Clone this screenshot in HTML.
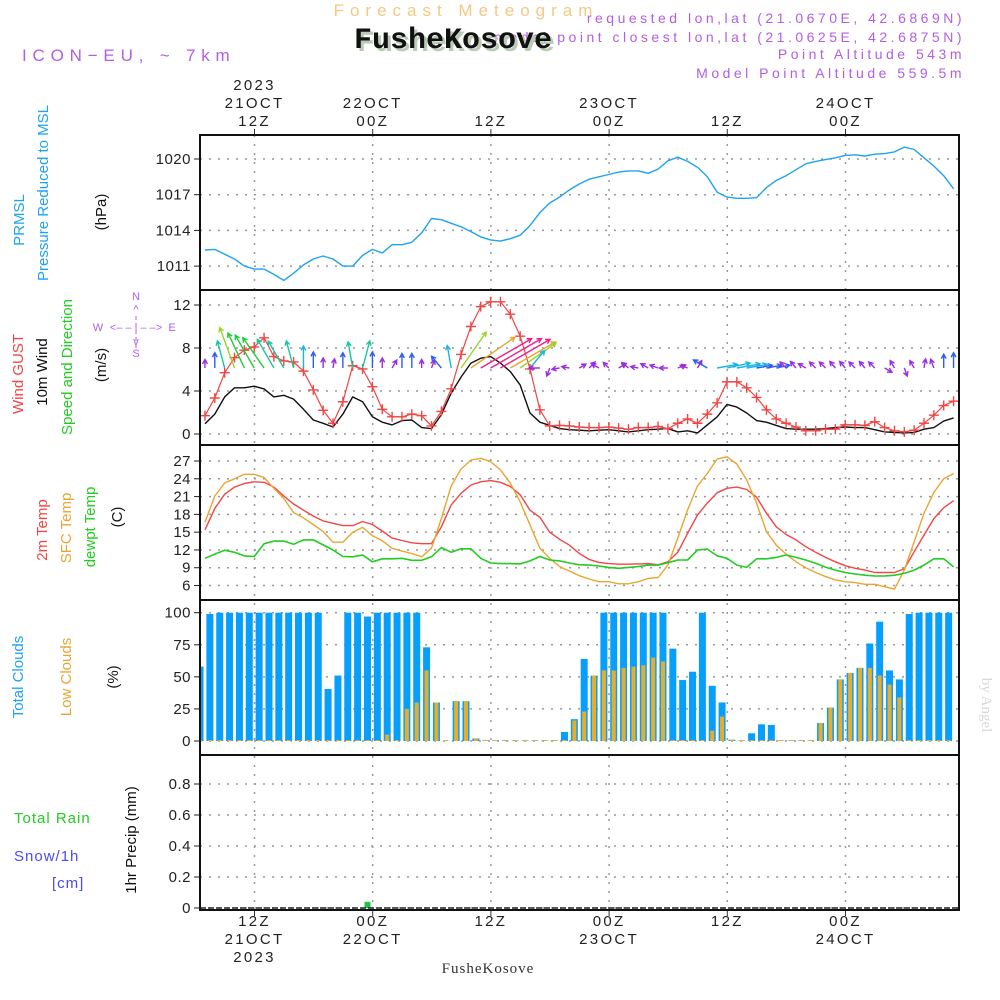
<!DOCTYPE html>
<html><head><meta charset="utf-8"><title>Forecast Meteogram FusheKosove</title>
<style>
html,body{margin:0;padding:0;background:#fff;}
svg{display:block;font-family:"Liberation Sans",sans-serif;}
</style></head>
<body>
<svg id="chart" width="1000" height="1000" viewBox="0 0 1000 1000" xmlns="http://www.w3.org/2000/svg">
<rect x="0" y="0" width="1000" height="1000" fill="#fff"/>
<text x="466" y="16" font-size="17" fill="#f3c985" text-anchor="middle" letter-spacing="6">Forecast Meteogram</text>
<g font-size="14" fill="#b35de6" text-anchor="end" letter-spacing="3.5">
<text x="965" y="23">requested lon,lat (21.0670E, 42.6869N)</text>
<text x="965" y="42">model point closest lon,lat (21.0625E, 42.6875N)</text>
<text x="965" y="59">Point Altitude 543m</text>
<text x="965" y="78">Model Point Altitude 559.5m</text>
</g>
<text x="456" y="51" font-size="30" font-weight="bold" font-family="Liberation Mono, monospace" fill="#b9cbb5" text-anchor="middle">FusheKosove</text>
<text x="453" y="48" font-size="30" font-weight="bold" font-family="Liberation Mono, monospace" fill="#111" text-anchor="middle">FusheKosove</text>
<text x="22" y="61" font-size="17" fill="#b35de6" letter-spacing="5.8">ICON−EU, ~ 7km</text>
<g id="grid"></g>
<g id="marks"></g>
<g id="frames"></g>
<g id="labels" font-size="15" fill="#222"></g>
<text transform="translate(982,705) rotate(90)" font-size="15" font-family="Liberation Serif, serif" fill="#d8d8d8" text-anchor="middle">by Angel</text>
<text x="488" y="973" font-size="15" font-family="Liberation Serif, serif" fill="#333" text-anchor="middle" letter-spacing="1">FusheKosove</text>
</svg>
<script>
// ---- data (hourly, index 0 at ~06:58Z 21OCT) ----
const startHour = 6.97;
const pressure = [1012.35,1012.4,1012.0,1011.6,1011.0,1010.75,1010.75,1010.3,1009.8,1010.4,1011.1,1011.6,1011.85,1011.6,1011.0,1011.0,1011.9,1012.4,1012.1,1012.8,1012.8,1013.0,1013.8,1015.0,1014.9,1014.6,1014.3,1013.9,1013.45,1013.2,1013.1,1013.3,1013.6,1014.4,1015.5,1016.3,1016.8,1017.4,1017.9,1018.3,1018.5,1018.7,1018.9,1019.0,1019.0,1018.8,1019.15,1019.85,1020.15,1019.8,1019.3,1018.5,1017.2,1016.8,1016.7,1016.7,1016.75,1017.6,1018.2,1018.6,1019.1,1019.6,1019.8,1019.95,1020.1,1020.3,1020.35,1020.25,1020.4,1020.45,1020.6,1021.0,1020.8,1020.1,1019.4,1018.6,1017.5];
const gust = [1.7,3.35,5.7,7.1,7.8,8.1,8.95,7.2,6.8,6.7,5.85,4.1,2.2,1.0,3.0,6.35,6.05,4.4,2.3,1.6,1.6,1.85,1.7,0.75,2.1,4.2,7.4,10.0,11.85,12.3,12.3,11.15,9.1,6.05,2.25,0.75,0.8,0.75,0.65,0.6,0.6,0.65,0.55,0.45,0.6,0.6,0.7,0.5,1.0,1.4,1.0,1.85,2.9,4.85,4.85,4.3,3.4,2.25,1.4,1.0,0.65,0.3,0.3,0.45,0.45,0.85,0.85,0.8,1.15,0.6,0.3,0.2,0.35,1.0,1.75,2.65,3.05];
const wind10m = [0.95,1.85,3.45,4.3,4.3,4.45,4.2,3.45,3.6,3.25,2.3,1.3,1.0,0.65,1.85,3.45,3.0,1.6,1.1,0.85,1.25,1.3,0.6,0.5,1.8,3.8,5.3,6.6,7.05,7.2,6.6,5.8,4.55,1.95,1.1,0.8,0.5,0.4,0.35,0.3,0.35,0.4,0.3,0.2,0.3,0.4,0.45,0.5,0.2,0.3,0.1,0.85,1.6,2.75,2.5,1.95,1.25,1.1,0.8,0.5,0.45,0.45,0.45,0.5,0.6,0.65,0.6,0.6,0.4,0.2,0.15,0.1,0.15,0.45,0.6,1.2,1.5];
const arrowSpeed = [0.6,1.5,3.2,5.2,4.6,4.5,4.4,3.9,3.6,3.2,2.4,1.6,0.8,0.7,1.5,3.0,3.2,1.6,0.8,0.7,1.4,1.4,0.6,0.6,1.5,2.5,5.3,6.6,7.3,7.3,7.1,6.4,5.3,2.5,0.9,0.6,0.5,0.5,0.5,0.6,0.6,0.5,0.6,0.6,0.5,0.6,0.6,0.6,0.6,0.5,0.6,1.6,2.2,2.6,2.6,2.2,1.6,1.5,1.3,0.6,0.6,0.6,0.6,0.6,0.6,0.6,0.6,0.6,0.6,0.6,0.6,0.6,0.6,0.7,0.7,1.3,1.5];
const arrowDir = [0,0,-15,-20,-25,-30,-35,-30,-30,-15,0,0,0,10,0,-10,15,0,0,30,0,0,0,20,-40,-10,35,55,60,60,60,60,55,40,-90,200,-100,-80,60,45,-60,-45,60,-50,-80,-60,-70,-90,70,-70,30,-60,80,78,80,80,80,80,78,-45,-40,-60,-45,-45,-40,-40,-45,-40,-45,120,-30,160,-30,10,-20,0,0];
const temp2m = [15.4,19.0,21.4,22.6,23.2,23.5,23.4,22.6,21.1,19.75,18.7,17.7,16.9,16.5,16.1,16.1,16.8,16.3,15.2,14.0,13.6,13.2,13.05,13.05,15.9,19.6,21.55,22.95,23.5,23.7,23.4,22.7,21.3,18.7,17.5,15.0,13.8,12.8,11.4,10.4,9.9,9.7,9.6,9.6,9.65,9.7,9.5,10.0,11.6,14.8,17.9,19.9,21.65,22.4,22.6,22.2,20.9,18.2,15.9,14.6,13.7,12.55,11.6,10.75,10.0,9.35,8.9,8.6,8.2,8.2,8.2,8.8,11.7,14.5,17.3,19.1,20.3];
const tempSfc = [16.7,21.1,23.3,24.0,24.75,24.75,24.2,22.4,20.7,18.3,17.4,16.3,15.1,13.3,13.3,15.0,15.8,14.4,13.55,12.3,11.8,11.4,10.85,12.3,17.3,22.8,25.65,27.15,27.45,26.9,25.5,23.25,20.1,16.2,12.3,10.6,9.2,8.45,7.65,7.1,6.65,6.65,6.3,6.3,6.65,7.2,7.35,9.45,14.0,18.75,22.8,24.9,27.35,27.7,26.5,23.8,19.9,15.1,12.8,11.3,10.0,9.0,8.2,7.5,6.95,6.65,6.5,6.2,6.2,5.8,5.4,8.6,13.4,18.2,21.7,24.0,24.9];
const dewpt = [10.6,11.3,11.95,11.6,11.0,10.9,13.05,13.5,13.5,12.95,13.7,13.7,12.85,12.0,10.9,10.85,11.15,10.0,10.5,10.5,10.6,10.25,10.25,10.85,12.4,11.6,12.2,12.2,10.6,9.8,9.7,9.7,9.65,10.15,10.9,10.3,10.15,9.8,9.5,9.45,9.3,9.05,8.9,9.05,9.2,9.45,9.45,9.85,10.3,10.3,12.0,12.15,11.0,10.6,9.45,9.05,10.5,10.5,10.75,11.15,10.75,10.3,9.75,9.1,8.6,8.2,7.95,7.75,7.6,7.6,7.75,8.05,8.6,9.45,10.5,10.5,9.15];
const totalClouds = [58,99,100,100,100,100,100,100,100,100,100,100,100,40.5,51,100,100,97,100,100,100,100,100,73,30,0,31,31,2,0.4,0.4,0.4,0.4,0.4,0.4,0.4,0.4,7,17,64,51,100,100,100,100,100,100,100,72,47.5,54,100,43,30,1,0.3,6,13,12.5,0.3,0.3,0.3,0.3,14,26,48,53,57,76,93,55,48,99,100,100,100,100];
const lowClouds = [0,0,0,0,0,0,0,0,0,0,0,0,0,0,0,0,0,0,0,5,0,25,30,55,30,0,31,31,2,0,0,0,0,0,0,0,0,0,16,23,51,55,55,57,58,59,65,62,0,0,0,0,8,19,1,0,0,0,0,0,0,0,0,14,26,48,53,57,57,51,44,34,0,0,0,0,0];
const precip = [0,0,0,0,0,0,0,0,0,0,0,0,0,0,0,0,0,0.04,0,0,0,0,0,0,0,0,0,0,0,0,0,0,0,0,0,0,0,0,0,0,0,0,0,0,0,0,0,0,0,0,0,0,0,0,0,0,0,0,0,0,0,0,0,0,0,0,0,0,0,0,0,0,0,0,0,0,0];
const pressTicks = [1020,1017,1014,1011];
const windTicks = [0,4,8,12];
const tempTicks = [27,24,21,18,15,12,9,6];
const cloudTicks = [0,25,50,75,100];
const precipTicks = [0,0.2,0.4,0.6,0.8];
const timeTickHours = [12,24,36,48,60,72];
const topTickLabels = [["2023","21OCT","12Z"],["22OCT","00Z"],["12Z"],["23OCT","00Z"],["12Z"],["24OCT","00Z"]];
const bottomTickLabels = [["12Z","21OCT","2023"],["00Z","22OCT"],["12Z"],["00Z","23OCT"],["12Z"],["00Z","24OCT"]];

// ---- axes ----
const PL = 200, PR = 959;
const panels = [[135,290],[290,445],[445,600],[600,755],[755,910]];
const xOfHour = h => 254.5 + (h - 12) * 9.85;
const xOfIdx = i => xOfHour(startHour + i);
const yP = p => 159 + (1020 - p) * 11.9;
const yW = v => 434 - v * 10.75;
const yT = t => 461 + (27 - t) * 5.93;
const yC = c => 741 - c * 1.283;
const yR = r => 908 - r * 155;

const NS = "http://www.w3.org/2000/svg";
function mk(tag, attrs, parent) {
  const e = document.createElementNS(NS, tag);
  for (const k in attrs) e.setAttribute(k, attrs[k]);
  parent.appendChild(e);
  return e;
}
const grid = document.getElementById('grid');
const marks = document.getElementById('marks');
const frames = document.getElementById('frames');
const labels = document.getElementById('labels');

const defs = mk('defs', {}, document.getElementById('chart'));
const cp = mk('clipPath', {id: 'plotclip'}, defs);
mk('rect', {x: PL, y: 135, width: PR - PL, height: 775}, cp);
marks.setAttribute('clip-path', 'url(#plotclip)');

timeTickHours.forEach((h, j) => {
  const x = xOfHour(h);
  const l = mk('line', {x1: x, x2: x, y1: 135, y2: 910, stroke: '#999', 'stroke-width': 1.5, 'stroke-dasharray': '2,7'}, grid);
  
  
  const tt = mk('line', {x1: x, x2: x, y1: 129, y2: 135, stroke: '#333'}, grid);
  
  
  const tb = mk('line', {x1: x, x2: x, y1: 910, y2: 916, stroke: '#333'}, grid);
  
  
  const top = topTickLabels[j];
  top.forEach((s, r) => {
    const t = mk('text', {x: x, y: 126 - (top.length - 1 - r) * 18, 'text-anchor': 'middle', 'letter-spacing': '2.3'}, labels);
    t.textContent = s;
    
    
  });
  bottomTickLabels[j].forEach((s, r) => {
    const t = mk('text', {x: x, y: 926 + r * 18, 'text-anchor': 'middle', 'letter-spacing': '2.3'}, labels);
    t.textContent = s;
    
    
  });
});

function yTicks(ticks, yf, fmt, name) {
  ticks.forEach(v => {
    const y = yf(v);
    const g = mk('line', {x1: PL, x2: PR, y1: y, y2: y, stroke: '#999', 'stroke-width': 1.5, 'stroke-dasharray': '2,7'}, grid);
    
    
    const tk = mk('line', {x1: PL - 6, x2: PL, y1: y, y2: y, stroke: '#222'}, grid);
    
    
    const t = mk('text', {x: PL - 9, y: y + 5, 'text-anchor': 'end', 'letter-spacing': '0.5'}, labels);
    t.textContent = fmt(v);
    
    
  });
}
yTicks(pressTicks, yP, v => String(v), 'pressure');
yTicks(windTicks, yW, v => String(v), 'wind');
yTicks(tempTicks, yT, v => String(v), 'temp');
yTicks(cloudTicks, yC, v => String(v), 'cloud');
yTicks(precipTicks, yR, v => v === 0 ? '0' : v.toFixed(1), 'precip');

function line(arr, yf, color, name, w) {
  const pts = arr.map((v, i) => xOfIdx(i).toFixed(1) + ',' + yf(v).toFixed(1)).join(' ');
  const p = mk('polyline', {points: pts, fill: 'none', stroke: color, 'stroke-width': w || 1.4, 'stroke-linejoin': 'round'}, marks);
  
  
}
line(pressure, yP, '#1ea3f0', 'pressure-line');

totalClouds.forEach((c, k) => {
  const xc = xOfIdx(k - 0.5);
  const b = mk('rect', {x: xc - 3.5, y: yC(c), width: 7, height: yC(0) - yC(c), fill: '#069ffb'}, marks);
  
  
});
lowClouds.forEach((c, k) => {
  const xc = xOfIdx(k - 0.5);
  const b = mk('rect', {x: xc - 2, y: yC(c) - (c > 0 ? 0 : 1), width: 4, height: Math.max(1, yC(0) - yC(c)), fill: '#e8ae2b'}, marks);
  
  
});
precip.forEach((r, k) => {
  if (r <= 0) return;
  const xc = xOfIdx(k - 0.5);
  const b = mk('rect', {x: xc - 3, y: yR(r), width: 6, height: yR(0) - yR(r), fill: '#21c24a'}, marks);
  
  
});
const zeroLine = mk('line', {x1: PL, x2: PR, y1: 908, y2: 908, stroke: '#222', 'stroke-width': 1.5, 'stroke-dasharray': '6,2'}, marks);



line(temp2m, yT, '#f24545', 'temp-2m-line');
line(tempSfc, yT, '#eaa531', 'temp-sfc-line');
line(dewpt, yT, '#22cc22', 'dewpoint-line', 1.6);

line(wind10m, yW, '#111', 'wind-10m-line');
line(gust, yW, '#f24545', 'wind-gust-line', 1.2);
gust.forEach((v, i) => {
  const x = xOfIdx(i), y = yW(v);
  const p = mk('path', {d: `M${x-5},${y}H${x+5}M${x},${y-5}V${y+5}`, stroke: '#f24545', 'stroke-width': 1.4}, marks);
  
  
});
function arrowColor(s) {
  if (s < 1) return '#9b2ee0';
  if (s < 2) return '#2f5cf5';
  if (s < 3) return '#17b4e6';
  if (s < 4) return '#14c8a0';
  if (s < 5) return '#1dcc3a';
  if (s < 6) return '#9ad42a';
  if (s < 7) return '#eaa531';
  return '#f0208a';
}
arrowDir.forEach((d, i) => {
  const s = arrowSpeed[i];
  const len = 4 + s * 7.5;
  const a = d * Math.PI / 180;
  const x0 = xOfIdx(i), y0 = 368;
  const x1 = x0 + Math.sin(a) * len, y1 = y0 - Math.cos(a) * len;
  const hl = 5, ha = 0.5;
  const bx = Math.sin(a), by = -Math.cos(a);
  const hx1 = x1 - hl * (bx * Math.cos(ha) - by * Math.sin(ha));
  const hy1 = y1 - hl * (by * Math.cos(ha) + bx * Math.sin(ha));
  const hx2 = x1 - hl * (bx * Math.cos(-ha) - by * Math.sin(-ha));
  const hy2 = y1 - hl * (by * Math.cos(-ha) + bx * Math.sin(-ha));
  const p = mk('path', {d: `M${x0},${y0}L${x1},${y1}M${hx1},${hy1}L${x1},${y1}L${hx2},${hy2}`, stroke: arrowColor(s), 'stroke-width': 1.4, fill: 'none'}, marks);
  
  
});

panels.forEach(([t, b], j) => {
  const r = mk('rect', {x: PL, y: t, width: PR - PL, height: b - t, fill: 'none', stroke: '#111', 'stroke-width': 2}, frames);
  
  
});

function vtext(x, y, s, color, name, size) {
  const t = mk('text', {transform: `translate(${x},${y}) rotate(-90)`, 'text-anchor': 'middle', fill: color, 'font-size': size || 15}, labels);
  t.textContent = s;
  
  
}
vtext(24, 220, 'PRMSL', '#1ea3f0', 'prmsl-title');
vtext(48, 193, 'Pressure Reduced to MSL', '#1ea3f0', 'pressure-title');
vtext(106, 212, '(hPa)', '#111', 'pressure-unit');
vtext(23, 374, 'Wind GUST', '#f24545', 'gust-title');
vtext(47, 372, '10m Wind', '#111', 'wind-title');
vtext(72, 367, 'Speed and Direction', '#22cc22', 'wind-direction-title');
vtext(106, 365, '(m/s)', '#111', 'wind-unit');
vtext(47, 530, '2m Temp', '#f24545', 'temp-2m-title');
vtext(71, 528, 'SFC Temp', '#eaa531', 'temp-sfc-title');
vtext(95, 527, 'dewpt Temp', '#22cc22', 'dewpoint-title');
vtext(122, 517, '(C)', '#111', 'temp-unit');
vtext(23, 677, 'Total Clouds', '#1ea3f0', 'total-clouds-title');
vtext(71, 677, 'Low Clouds', '#eaa531', 'low-clouds-title');
vtext(118, 677, '(%)', '#111', 'cloud-unit');
vtext(136, 840, '1hr Precip (mm)', '#111', 'precip-title');
[['Total  Rain', 14, 823, '#22cc22', 'rain-legend'], ['Snow/1h', 14, 861, '#4a4af0', 'snow-legend'], ['[cm]', 52, 888, '#4a4af0', 'snow-unit']].forEach(a => {
  const t = mk('text', {x: a[1], y: a[2], fill: a[3], 'font-size': 15, 'letter-spacing': '1', 'xml:space': 'preserve'}, labels);
  t.textContent = a[0];
  
  
});
[['N', 136, 300], ['S', 136, 357], ['W', 98, 331], ['E', 172, 331], ['<– – | – –>', 136, 331], ['^', 136, 313], ['v', 136, 345]].forEach(a => {
  const t = mk('text', {x: a[1], y: a[2], fill: '#b35de6', 'font-size': 11, 'text-anchor': 'middle'}, labels);
  t.textContent = a[0];
  
  
});
const cl = mk('line', {x1: 136, x2: 136, y1: 316, y2: 348, stroke: '#b35de6', 'stroke-dasharray': '4,3'}, labels);


</script>
</body></html>
